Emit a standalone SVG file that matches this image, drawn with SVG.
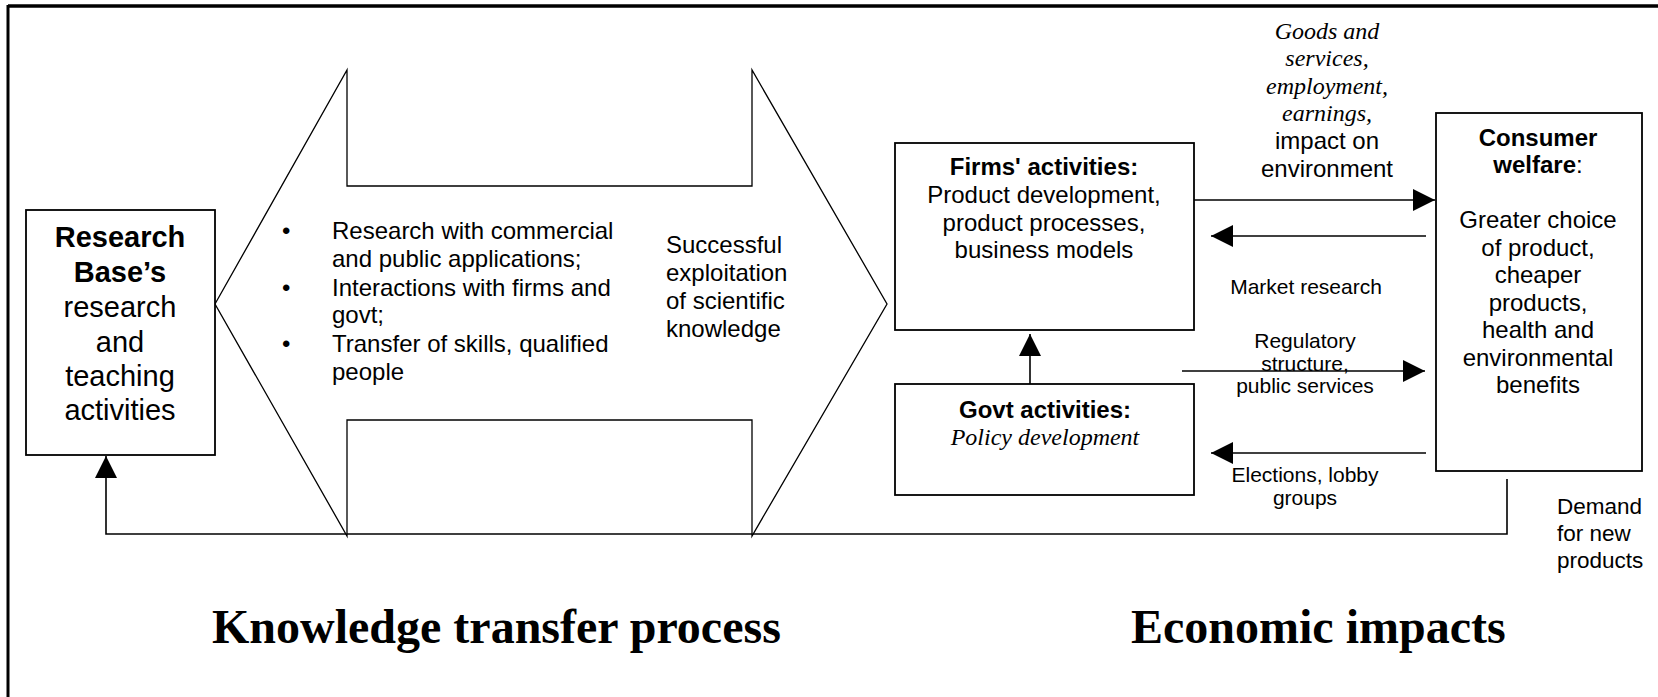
<svg xmlns="http://www.w3.org/2000/svg" width="1658" height="697" viewBox="0 0 1658 697">
<defs>
<style>
.box{fill:#fff;stroke:#000;stroke-width:1.8}
.shape{fill:#fff;stroke:#000;stroke-width:1.3}
.conn{fill:none;stroke:#000;stroke-width:1.6}
.sans{font-family:"Liberation Sans",Arial,sans-serif;fill:#000}
.serif{font-family:"Liberation Serif","Times New Roman",serif;fill:#000}
.b{font-weight:bold}
.i{font-style:italic}
.mid{text-anchor:middle}
.t24{font-size:24px}
.t21{font-size:21px}
.title{font-family:"Liberation Serif","Times New Roman",serif;font-weight:bold;font-size:48px;fill:#000}
</style>
<marker id="ah" markerUnits="userSpaceOnUse" markerWidth="22" markerHeight="22" refX="22" refY="11" orient="auto" viewBox="0 0 22 22">
<path d="M0,0 L22,11 L0,22 Z" fill="#000"/>
</marker>
</defs>
<rect width="1658" height="697" fill="#fff"/>
<g id="frame">
<line x1="8" y1="6" x2="1658" y2="6" stroke="#000" stroke-width="3.5"/>
<line x1="8" y1="5" x2="8" y2="697" stroke="#000" stroke-width="3"/>
</g>
<g id="connectors">
<path class="conn" d="M1507,479 V534 H106 V456" stroke-width="2.4" marker-end="url(#ah)"/>
<line class="conn" x1="1194" y1="200" x2="1435" y2="200" marker-end="url(#ah)"/>
<line class="conn" x1="1426" y1="236" x2="1211" y2="236" marker-end="url(#ah)"/>
<line class="conn" x1="1030" y1="384" x2="1030" y2="334" marker-end="url(#ah)"/>
<line class="conn" x1="1182" y1="371" x2="1425" y2="371" marker-end="url(#ah)"/>
<line class="conn" x1="1426" y1="453" x2="1211" y2="453" marker-end="url(#ah)"/>
</g>
<g id="knowledge-transfer">
<polygon class="shape" points="215,304 347,70 347,186 752,186 752,70 887,304 752,536 752,420 347,420 347,536"/>
<g class="sans t24">
<text x="282" y="239">•</text>
<text x="282" y="296">•</text>
<text x="282" y="352">•</text>
<text x="332" y="239">Research with commercial</text>
<text x="332" y="267">and public applications;</text>
<text x="332" y="296">Interactions with firms and</text>
<text x="332" y="323">govt;</text>
<text x="332" y="352">Transfer of skills, qualified</text>
<text x="332" y="380">people</text>
<text x="666" y="253">Successful</text>
<text x="666" y="281">exploitation</text>
<text x="666" y="309">of scientific</text>
<text x="666" y="337">knowledge</text>
</g>
</g>
<g id="research-base">
<rect class="box" x="26" y="210" width="189" height="245"/>
<g class="sans mid" font-size="29">
<text x="120" y="247" class="b">Research</text>
<text x="120" y="282" class="b">Base’s</text>
<text x="120" y="317">research</text>
<text x="120" y="352">and</text>
<text x="120" y="386">teaching</text>
<text x="120" y="420">activities</text>
</g>
</g>
<g id="firms">
<rect class="box" x="895" y="143" width="299" height="187"/>
<g class="sans mid t24">
<text x="1044" y="175" class="b">Firms' activities:</text>
<text x="1044" y="203">Product development,</text>
<text x="1044" y="231">product processes,</text>
<text x="1044" y="258">business models</text>
</g>
</g>
<g id="govt">
<rect class="box" x="895" y="384" width="299" height="111"/>
<text x="1045" y="418" class="sans b mid t24">Govt activities:</text>
<text x="1045" y="445" class="serif i mid t24">Policy development</text>
</g>
<g id="consumer">
<rect class="box" x="1436" y="113" width="206" height="358"/>
<g class="sans mid t24">
<text x="1538" y="146" class="b">Consumer</text>
<text x="1538" y="173"><tspan font-weight="bold">welfare</tspan>:</text>
<text x="1538" y="228">Greater choice</text>
<text x="1538" y="256">of product,</text>
<text x="1538" y="283">cheaper</text>
<text x="1538" y="311">products,</text>
<text x="1538" y="338">health and</text>
<text x="1538" y="366">environmental</text>
<text x="1538" y="393">benefits</text>
</g>
</g>
<g id="labels">
<g class="serif i mid t24">
<text x="1327" y="39">Goods and</text>
<text x="1327" y="66">services,</text>
<text x="1327" y="94">employment,</text>
<text x="1327" y="121">earnings,</text>
</g>
<g class="sans mid t24">
<text x="1327" y="149">impact on</text>
<text x="1327" y="177">environment</text>
</g>
<g class="sans mid t21">
<text x="1306" y="294">Market research</text>
<text x="1305" y="348">Regulatory</text>
<text x="1305" y="371">structure,</text>
<text x="1305" y="393">public services</text>
<text x="1305" y="482">Elections, lobby</text>
<text x="1305" y="505">groups</text>
</g>
<g class="sans" font-size="22.5">
<text x="1557" y="514">Demand</text>
<text x="1557" y="541">for new</text>
<text x="1557" y="568">products</text>
</g>
<text x="212" y="643" class="title">Knowledge transfer process</text>
<text x="1131" y="643" class="title">Economic impacts</text>
</g>
</svg>
